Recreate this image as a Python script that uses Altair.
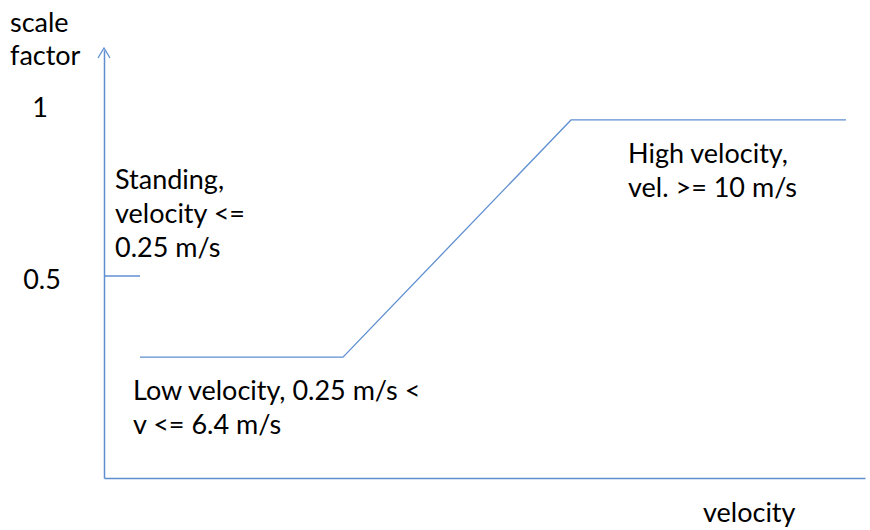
import altair as alt
import pandas as pd

# Scale factor as a function of velocity (m/s), in three regimes
standing_velocity = [0.0, 0.25]
standing_factor = [0.5, 0.5]
moving_velocity = [0.25, 6.4, 10.0, 14.0]
moving_factor = [0.24, 0.24, 1.0, 1.0]

# Y-axis reference values
tick_values = [1.0, 0.5]
tick_labels = ["1", "0.5"]

# Annotations
standing_note = "Standing,\nvelocity <=\n0.25 m/s"
low_note = "Low velocity, 0.25 m/s <\nv <= 6.4 m/s"
high_note = "High velocity,\nvel. >= 10 m/s"
x_title = "velocity"
y_title = "scale\nfactor"

BLUE = "#5f8fd0"
FONT = "Lato"
FS = 27

curve = pd.DataFrame({
    "segment": ["standing"] * len(standing_velocity) + ["moving"] * len(moving_velocity),
    "order": list(range(len(standing_velocity))) + list(range(len(moving_velocity))),
    "velocity": standing_velocity + moving_velocity,
    "factor": standing_factor + moving_factor,
})
ticks = pd.DataFrame({"value": tick_values, "label": tick_labels})

# The velocity axis is schematic: piecewise-linear between the regime limits
x_scale = alt.Scale(domain=[0.0, 0.25, 6.4, 10.0, 14.0, 15.8],
                    range=[0, 36, 239, 467, 742, 761], zero=False, nice=False)
y_scale = alt.Scale(domain=[-0.147, 1.224], zero=False, nice=False)

axis_style = dict(domain=True, domainColor=BLUE, domainWidth=1.5, ticks=False,
                  labels=False, grid=False, title=None)
x_axis = alt.Axis(**axis_style)
y_axis = alt.Axis(**axis_style)

lines = alt.Chart(curve).mark_line(color=BLUE, strokeWidth=1.3).encode(
    x=alt.X("velocity:Q", scale=x_scale, axis=x_axis),
    y=alt.Y("factor:Q", scale=y_scale, axis=y_axis),
    detail="segment:N",
    order="order:Q",
)

base_text = dict(font=FONT, fontSize=FS, color="#000000", align="left",
                 baseline="alphabetic", lineBreak="\n", lineHeight=34)

def note(text, x, y, **kw):
    props = dict(base_text)
    props.update(kw)
    return alt.Chart(pd.DataFrame({"t": [text]})).mark_text(**props).encode(
        x=alt.value(x), y=alt.value(y), text="t:N")

tick_one = alt.Chart(ticks).transform_filter(alt.datum.label == "1").mark_text(
    font=FONT, fontSize=FS, color="#000000", align="center", baseline="alphabetic", dy=-3
).encode(x=alt.value(-64), y=alt.Y("value:Q", scale=y_scale, axis=y_axis), text="label:N")

tick_half = alt.Chart(ticks).transform_filter(alt.datum.label == "0.5").mark_text(
    font=FONT, fontSize=FS, color="#000000", align="center", baseline="alphabetic", dy=13
).encode(x=alt.value(-62), y=alt.Y("value:Q", scale=y_scale, axis=y_axis), text="label:N")

# Open arrowhead at the top of the y axis
arrow = alt.Chart(pd.DataFrame({"a": [0]})).mark_point(
    shape="M-0.6,1L0,0L0.6,1", size=400, filled=False, color=BLUE, strokeWidth=1.3, opacity=1
).encode(x=alt.value(0), y=alt.value(-2))

chart = alt.layer(
    lines,
    tick_one,
    tick_half,
    arrow,
    note(standing_note, 11, 139),
    note(low_note, 29, 350),
    note(high_note, 524, 113),
    note(x_title, 599, 472),
    note(y_title, -94, -18, lineHeight=33),
).properties(
    width=761,
    height=428,
    padding={"left": 104, "top": 50, "right": 5, "bottom": 52},
    autosize=alt.AutoSizeParams(type="none"),
    background="white",
).configure_view(stroke=None)

chart.save("out.html", embed_options={"renderer": "svg", "actions": False})
